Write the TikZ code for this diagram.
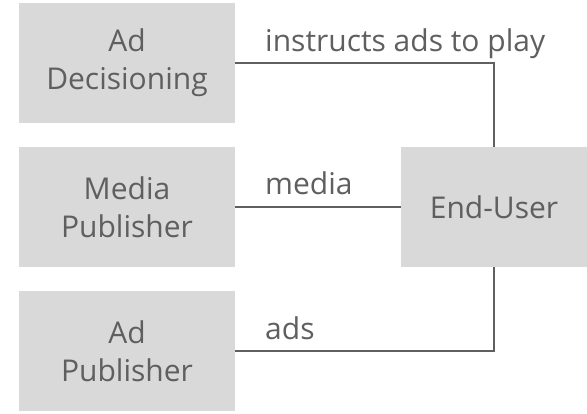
\documentclass[tikz,border=0pt]{standalone}
\usepackage{fontspec}
\setmainfont{Open Sans}
\definecolor{boxfill}{HTML}{D9D9D9}
\definecolor{txt}{HTML}{5F5F5F}
\definecolor{ln}{HTML}{606060}
\begin{document}
\begin{tikzpicture}[x=1pt,y=-1pt,
  box/.style={fill=boxfill, text=txt, minimum width=216pt, minimum height=120pt, align=center, inner sep=0pt, font=\fontsize{30}{38}\selectfont},
  eubox/.style={box, minimum width=186pt, minimum height=120pt},
  conn/.style={draw=ln, line width=1.6pt},
  lbl/.style={text=txt, anchor=base west, inner sep=0pt, font=\fontsize{30}{34}\selectfont}]
\useasboundingbox (0,0) rectangle (587,414);
\node[box] (dec) at (127,63) {Ad\\Decisioning};
\node[box] (med) at (127,207) {Media\\Publisher};
\node[box] (adp) at (127,351) {Ad\\Publisher};
\node[eubox] (eu) at (494,207) {End-User};
\draw[conn] (dec.east) -- (dec.east -| eu.north) -- (eu.north);
\draw[conn] (med.east) -- (eu.west);
\draw[conn] (adp.east) -- (adp.east -| eu.south) -- (eu.south);
\node[lbl] (l1) at (265,52) {instructs ads to play};
\node[lbl] (l2) at (265,195) {media};
\node[lbl] (l3) at (265,340) {ads};
\end{tikzpicture}
\end{document}
